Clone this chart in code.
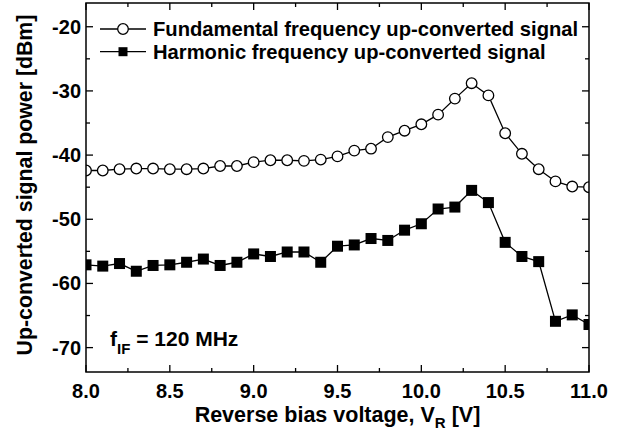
<!DOCTYPE html>
<html>
<head>
<meta charset="utf-8">
<script src="https://cdn.jsdelivr.net/npm/d3@7"></script>
<style>
  body { margin: 0; background: #fff; }
  text { font-family: 'Liberation Sans', Arial, sans-serif; font-weight: bold; fill: #000; }
</style>
</head>
<body>
<div id="chart"></div>
<script>
// reverse bias voltage [V]
const voltage = [
  8.0, 8.1, 8.2, 8.3, 8.4, 8.5, 8.6, 8.7, 8.8, 8.9,
  9.0, 9.1, 9.2, 9.3, 9.4, 9.5, 9.6, 9.7, 9.8, 9.9,
  10.0, 10.1, 10.2, 10.3, 10.4, 10.5, 10.6, 10.7, 10.8, 10.9, 11.0
]
// fundamental frequency up-converted signal [dBm]
const fundamental = [
  -42.4, -42.4, -42.2, -42.1, -42.1, -42.2, -42.2, -42.1, -41.7, -41.7,
  -41.1, -40.8, -40.8, -40.9, -40.7, -40.2, -39.3, -39.0, -37.2, -36.2,
  -35.2, -33.7, -31.2, -28.8, -30.7, -36.6, -39.8, -42.2, -44.1, -44.9, -45.0
]
// harmonic frequency up-converted signal [dBm]
const harmonic = [
  -57.1, -57.3, -56.9, -58.1, -57.2, -57.1, -56.7, -56.2, -57.2, -56.7,
  -55.4, -55.8, -55.1, -55.1, -56.7, -54.2, -54.0, -53.0, -53.3, -51.7,
  -50.7, -48.4, -48.1, -45.5, -47.4, -53.6, -55.8, -56.6, -65.9, -64.9, -66.4
]
const xTicks = [8.0, 8.5, 9.0, 9.5, 10.0, 10.5, 11.0]
const yTicks = [-20, -30, -40, -50, -60, -70]
const seriesNames = [
  'Fundamental frequency up-converted signal',
  'Harmonic frequency up-converted signal'
]

const width = 623
const height = 434
const margin = { top: 3, right: 34, bottom: 62, left: 86 }

const svg = d3
  .select('#chart')
  .append('svg')
  .attr('width', width)
  .attr('height', height)

const x = d3
  .scaleLinear()
  .domain([8, 11])
  .range([margin.left, width - margin.right])
const y = d3
  .scaleLinear()
  .domain([-73.8, -16.3])
  .range([height - margin.bottom, margin.top])

const x0 = x.range()[0]
const x1 = x.range()[1]
const y0 = y.range()[0]
const y1 = y.range()[1]

// minor ticks
const xMinor = d3.range(8.25, 11, 0.5)
const yMinor = d3.range(-75, -15, 10).filter(v => v > -73.8 && v < -16.3)

// ticks pointing inward, on all four sides
const tickG = svg.append('g').attr('stroke', '#000').attr('stroke-width', 1.3)
function hTicks(vals, len) {
  vals.forEach(v => {
    tickG.append('line').attr('x1', x(v)).attr('x2', x(v)).attr('y1', y0).attr('y2', y0 - len)
    tickG.append('line').attr('x1', x(v)).attr('x2', x(v)).attr('y1', y1).attr('y2', y1 + len)
  })
}
function vTicks(vals, len) {
  vals.forEach(v => {
    tickG.append('line').attr('x1', x0).attr('x2', x0 + len).attr('y1', y(v)).attr('y2', y(v))
    tickG.append('line').attr('x1', x1).attr('x2', x1 - len).attr('y1', y(v)).attr('y2', y(v))
  })
}
hTicks(xTicks, 7)
hTicks(xMinor, 4)
vTicks(yTicks, 7)
vTicks(yMinor, 4)

// tick labels
svg
  .append('g')
  .selectAll('text')
  .data(xTicks)
  .enter()
  .append('text')
  .attr('x', d => x(d))
  .attr('y', y0 + 26)
  .attr('text-anchor', 'middle')
  .style('font-size', '20px')
  .text(d => d.toFixed(1))

svg
  .append('g')
  .selectAll('text')
  .data(yTicks)
  .enter()
  .append('text')
  .attr('x', x0 - 5)
  .attr('y', d => y(d) + 7)
  .attr('text-anchor', 'end')
  .style('font-size', '20px')
  .text(d => d)

// clip the markers at the frame
svg
  .append('clipPath')
  .attr('id', 'plotClip')
  .append('rect')
  .attr('x', x0)
  .attr('y', y1)
  .attr('width', x1 - x0)
  .attr('height', y0 - y1)

const plot = svg.append('g').attr('clip-path', 'url(#plotClip)')

const line = d3
  .line()
  .x((d, i) => x(voltage[i]))
  .y(d => y(d))

plot
  .append('path')
  .datum(fundamental)
  .attr('d', line)
  .attr('fill', 'none')
  .attr('stroke', '#000')
  .attr('stroke-width', 1.3)

plot
  .append('path')
  .datum(harmonic)
  .attr('d', line)
  .attr('fill', 'none')
  .attr('stroke', '#000')
  .attr('stroke-width', 1.3)

plot
  .selectAll('circle')
  .data(fundamental)
  .enter()
  .append('circle')
  .attr('cx', (d, i) => x(voltage[i]))
  .attr('cy', d => y(d))
  .attr('r', 5.3)
  .attr('fill', '#fff')
  .attr('stroke', '#000')
  .attr('stroke-width', 1.3)

const sq = 11
plot
  .selectAll('rect.sq')
  .data(harmonic)
  .enter()
  .append('rect')
  .attr('class', 'sq')
  .attr('x', (d, i) => x(voltage[i]) - sq / 2)
  .attr('y', d => y(d) - sq / 2)
  .attr('width', sq)
  .attr('height', sq)
  .attr('fill', '#000')

// frame
svg
  .append('rect')
  .attr('x', x0)
  .attr('y', y1)
  .attr('width', x1 - x0)
  .attr('height', y0 - y1)
  .attr('fill', 'none')
  .attr('stroke', '#000')
  .attr('stroke-width', 1.5)

// legend
const legend = svg
  .append('g')
  .selectAll('g')
  .data(seriesNames)
  .enter()
  .append('g')
  .attr('transform', (d, i) => 'translate(0,' + (29 + i * 22.7) + ')')

legend
  .append('line')
  .attr('x1', 100)
  .attr('x2', 146)
  .attr('stroke', '#000')
  .attr('stroke-width', 1.3)

legend
  .filter((d, i) => i === 0)
  .append('circle')
  .attr('cx', 123)
  .attr('r', 5.3)
  .attr('fill', '#fff')
  .attr('stroke', '#000')
  .attr('stroke-width', 1.3)

legend
  .filter((d, i) => i === 1)
  .append('rect')
  .attr('x', 123 - 4.5)
  .attr('y', -4.5)
  .attr('width', 9)
  .attr('height', 9)
  .attr('fill', '#000')

legend
  .append('text')
  .attr('x', 153)
  .attr('y', 7)
  .style('font-size', '20.2px')
  .text(d => d)

// annotation
const note = svg
  .append('text')
  .attr('x', 110)
  .attr('y', 346)
  .style('font-size', '21px')
note.append('tspan').text('f')
note.append('tspan').attr('dy', 8).style('font-size', '15px').text('IF')
note.append('tspan').attr('dy', -8).text(' = 120 MHz')

// axis titles
const xTitle = svg
  .append('text')
  .attr('x', (x0 + x1) / 2)
  .attr('y', 422)
  .attr('text-anchor', 'middle')
  .style('font-size', '21.5px')
xTitle.append('tspan').text('Reverse bias voltage, V')
xTitle.append('tspan').attr('dy', 6).style('font-size', '15px').text('R')
xTitle.append('tspan').attr('dy', -6).text(' [V]')

svg
  .append('text')
  .attr('transform', 'translate(32,' + 185 + ') rotate(-90)')
  .attr('text-anchor', 'middle')
  .style('font-size', '21.3px')
  .text('Up-converted signal power [dBm]')
</script>
</body>
</html>
